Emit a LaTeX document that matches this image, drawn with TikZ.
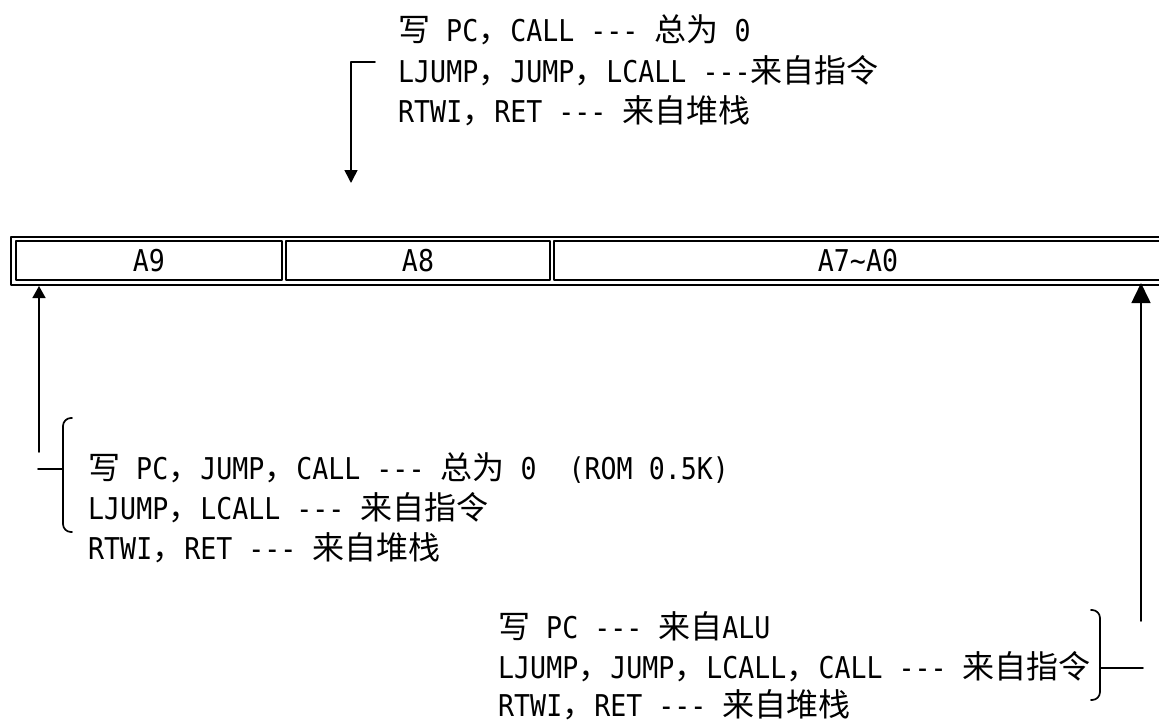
\documentclass[tikz,border=0pt]{standalone}
\usepackage{fontspec}
\setmonofont{DejaVu Sans Mono}[FakeStretch=0.887]
\newfontfamily\zhfont[Scale=1.067]{Noto Sans CJK SC}
\newcommand{\zh}[1]{{\zhfont #1}}
\usetikzlibrary{arrows.meta}
\tikzset{
  note/.style={anchor=base west,inner sep=0pt,font=\ttfamily\fontsize{30}{36}\selectfont},
  cell/.style={draw,line width=2.5pt,inner sep=0pt,minimum height=39pt,font=\ttfamily\fontsize{30}{36}\selectfont},
  frame/.style={line width=2.5pt},
  lead/.style={line width=1.6pt},
  hook/.style={line width=1.7pt,rounded corners=8pt}
}

\begin{document}
\begin{tikzpicture}[x=1pt,y=-1pt,line cap=round,line join=round]
\clip (0,0) rectangle (1159,726);
\draw[frame] (1170,237) -- (11,237) -- (11,285) -- (1170,285);
\node[cell,minimum width=266pt] (a9) at (149,260.5) {A9};
\node[cell,minimum width=264pt] (a8) at (418,260.5) {A8};
\node[cell,minimum width=608pt] (a70) at (858,260.5) {A7\textasciitilde A0};
\node[note] (wpc1) at (398,41) {\zh{写} PC\zh{，}CALL --- \zh{总为} 0};
\node[note] (wpc2) at (398,82) {LJUMP\zh{，}JUMP\zh{，}LCALL ---\zh{来自指令}};
\node[note] (wpc3) at (398,122) {RTWI\zh{，}RET --- \zh{来自堆栈}};
\node[note] (hi1) at (88,479) {\zh{写} PC\zh{，}JUMP\zh{，}CALL --- \zh{总为} 0\ \ (ROM 0.5K)};
\node[note] (hi2) at (88,519) {LJUMP\zh{，}LCALL --- \zh{来自指令}};
\node[note] (hi3) at (88,559) {RTWI\zh{，}RET --- \zh{来自堆栈}};
\node[note] (lo1) at (498,638) {\zh{写} PC --- \zh{来自}ALU};
\node[note] (lo2) at (498,678) {LJUMP\zh{，}JUMP\zh{，}LCALL\zh{，}CALL --- \zh{来自指令}};
\node[note] (lo3) at (498,716) {RTWI\zh{，}RET --- \zh{来自堆栈}};
\coordinate (wtick) at (375,62);
\coordinate (wbend) at (351,62);
\coordinate (wtip) at (351,183);
\draw[lead,-{Triangle[length=13pt,width=13pt]}] (wtick) -- (wbend) -- (wtip);
\coordinate (hfoot) at (39,452);
\coordinate (htip) at (39,286);
\draw[lead,-{Triangle[length=12pt,width=13pt]}] (hfoot) -- (htip);
\draw[hook] (72,418) -- (63,418) -- (63,532) -- (72,532);
\draw[lead] (38,469) -- (63,469);
\coordinate (lfoot) at (1141,621);
\coordinate (ltip) at (1141,283);
\draw[lead,-{Triangle[length=20pt,width=19pt]}] (lfoot) -- (ltip);
\draw[hook] (1091,610) -- (1100,610) -- (1100,700) -- (1091,700);
\draw[lead] (1100,668) -- (1143,668);
\end{tikzpicture}
\end{document}
